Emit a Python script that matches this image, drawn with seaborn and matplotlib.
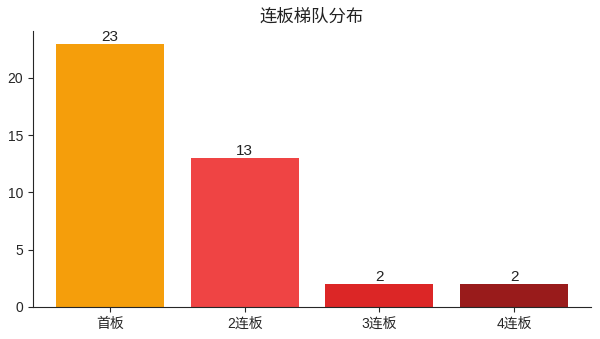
import matplotlib
matplotlib.use("Agg")
import matplotlib.pyplot as plt
import seaborn as sns
import pandas as pd

categories = ["首板", "2连板", "3连板", "4连板"]
counts = [23, 13, 2, 2]
colors = ["#F59E0B", "#EF4444", "#DC2626", "#991B1B"]

sns.set_style("ticks")
plt.rcParams['font.family'] = ['Liberation Sans', 'Noto Sans CJK SC', 'DejaVu Sans']

df = pd.DataFrame({"cat": categories, "n": counts})
fig, ax = plt.subplots(figsize=(6, 3.39), dpi=100)
sns.barplot(data=df, x="cat", y="n", hue="cat", palette=colors, legend=False,
            width=0.8, saturation=1, linewidth=0, ax=ax)
for c in ax.containers:
    ax.bar_label(c, fontsize=11, color="#222222", padding=0)
ax.set_title("连板梯队分布", fontsize=12.5, color="#222222",
             family=['Noto Sans CJK SC', 'DejaVu Sans'])
ax.set_xlabel("")
ax.set_ylabel("")
ax.set_xlim(-0.57, 3.57)
ax.set_yticks([0, 5, 10, 15, 20])
ax.tick_params(labelsize=10)
for lbl in ax.get_xticklabels():
    lbl.set_family(['Liberation Sans', 'Noto Sans CJK SC'])
sns.despine(ax=ax)
fig.subplots_adjust(left=0.055, right=0.985, top=0.91, bottom=0.095)
fig.savefig("out.png", dpi=100)
